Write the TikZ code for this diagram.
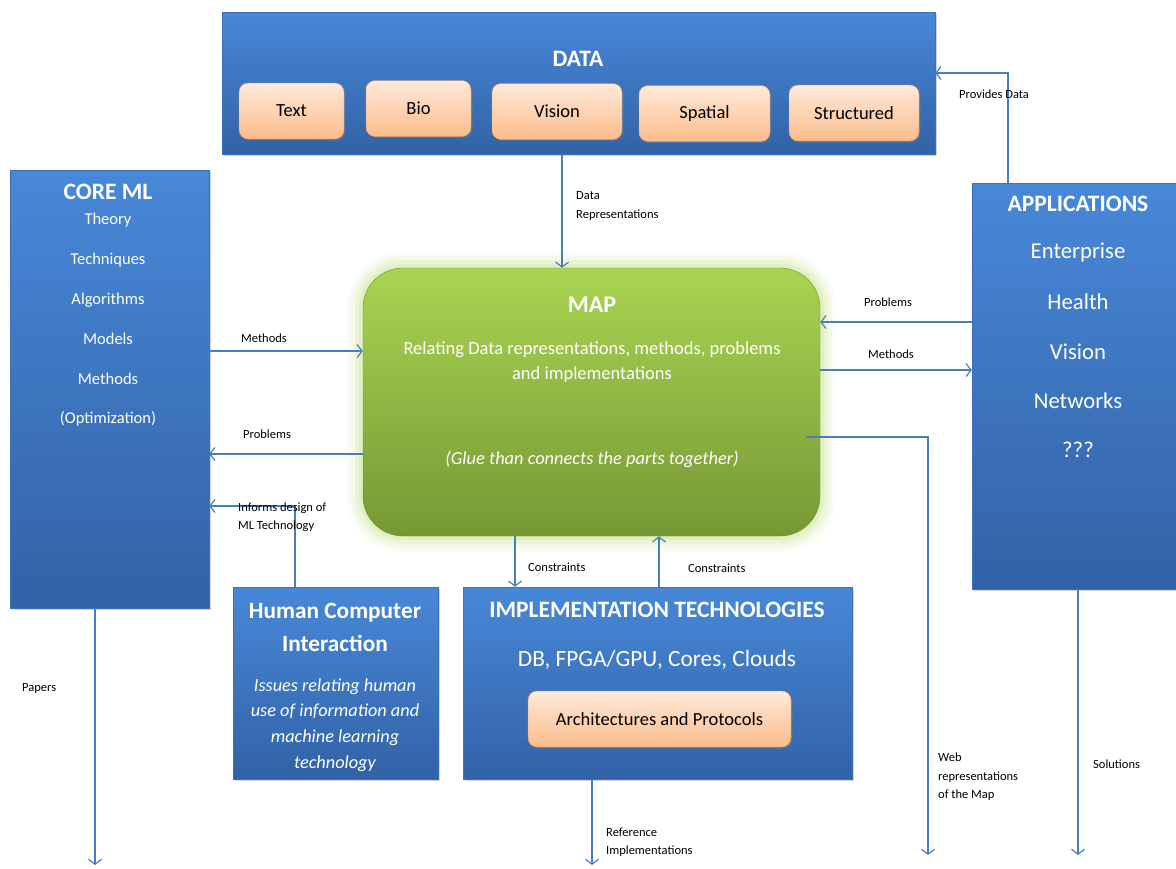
\documentclass[tikz,border=0pt]{standalone}
\usepackage{fontspec}
\setmainfont{Carlito}
\usetikzlibrary{arrows.meta,shadows,backgrounds}
\definecolor{linkblue}{RGB}{74,126,187}
\definecolor{boxtop}{RGB}{72,136,216}
\definecolor{boxbottom}{RGB}{50,98,166}
\definecolor{boxedge}{RGB}{60,112,185}
\definecolor{maptop}{RGB}{170,212,82}
\definecolor{mapbottom}{RGB}{118,152,52}
\definecolor{mapedge}{RGB}{112,142,50}
\definecolor{mapglow}{RGB}{176,214,96}
\definecolor{kindtop}{RGB}{254,234,218}
\definecolor{kindbottom}{RGB}{251,188,138}
\definecolor{kindedge}{RGB}{238,146,76}
\tikzset{
  bluebox/.style={draw=boxedge, top color=boxtop, bottom color=boxbottom, inner sep=0pt,
    drop shadow={shadow xshift=2pt, shadow yshift=-2pt, opacity=0.35}},
  mapbox/.style={draw=mapedge, top color=maptop, bottom color=mapbottom, rounded corners=40pt, inner sep=0pt},
  kindbox/.style={draw=kindedge, top color=kindtop, bottom color=kindbottom, rounded corners=9pt,
    minimum height=56pt, font=\fontsize{18.5}{22}\selectfont, text=black,
    drop shadow={shadow xshift=1.5pt, shadow yshift=-1.5pt, opacity=0.3}},
  boxtitle/.style={text=white, font=\fontsize{23.5}{28}\selectfont\bfseries},
  boxitem/.style={text=white, font=\fontsize{16.5}{20}\selectfont},
  link/.style={draw=linkblue, line width=1.2pt, -{Straight Barb[length=5pt, width=13pt]}},
  lbl/.style={font=\fontsize{12.5}{18.5}\selectfont, align=left, anchor=west, inner sep=0pt},
}
\begin{document}
\begin{tikzpicture}[x=1pt,y=-1pt]
\useasboundingbox (0,0) rectangle (1176,868);

% glow round the map
\foreach \w/\o in {32/0.07,24/0.09,16/0.12,8/0.16}{
  \draw[mapglow, line width=\w pt, opacity=\o, rounded corners=40pt] (363,268) rectangle (820,536);
}

% boxes
\node[bluebox, minimum width=713pt, minimum height=142pt] (data) at (578.5,83) {};
\node[bluebox, minimum width=199pt, minimum height=438pt] (core) at (109.5,389) {};
\node[bluebox, minimum width=208pt, minimum height=406pt] (app) at (1076,386) {};
\node[bluebox, minimum width=205pt, minimum height=192pt] (hci) at (335.5,683) {};
\node[bluebox, minimum width=389pt, minimum height=192pt] (impl) at (657.5,683) {};
\node[mapbox, minimum width=457pt, minimum height=268pt] (map) at (591.5,402) {};

% data
\node[boxtitle] (datatitle) at (578,59) {DATA};
\foreach \n/\x/\y/\w/\t in {text/291.5/111/105/Text, bio/418.5/108.5/105/Bio, vision/557/111.5/130/Vision,
  spatial/704.5/113.5/131/Spatial, structured/854/113/130/Structured}{
  \node[kindbox, minimum width=\w pt] (\n) at (\x,\y) {\t};
}

% core ml
\node[boxtitle] (coretitle) at (108,192) {CORE ML};
\foreach \y/\t in {220/Theory, 260/Techniques, 300/Algorithms, 339/Models, 379/Methods, 419/(Optimization)}{
  \node[boxitem] at (108,\y) {\t};
}

% applications
\node[boxtitle] (apptitle) at (1078,204) {APPLICATIONS};
\foreach \y/\t in {253/Enterprise, 302/Health, 352/Vision, 401/Networks, 450/???}{
  \node[boxitem, font=\fontsize{22.7}{26}\selectfont] at (1078,\y) {\t};
}

% map
\node[boxtitle, font=\fontsize{24}{28}\selectfont\bfseries] (maptitle) at (592,305) {MAP};
\node[boxitem, align=center, font=\fontsize{18.5}{25.5}\selectfont] (maptext) at (592,362)
  {Relating Data representations, methods, problems\\and implementations};
\node[boxitem, font=\fontsize{18.4}{22}\selectfont\itshape] (mapglue) at (592,459) {(Glue than connects the parts together)};

% hci
\node[boxtitle, align=center, font=\fontsize{23.3}{33}\selectfont\bfseries] (hcititle) at (335,627) {Human Computer\\Interaction};
\node[boxitem, align=center, font=\fontsize{18.3}{25.7}\selectfont\itshape] (hcitext) at (335,725)
  {Issues relating human\\use of information and\\machine learning\\technology};

% implementation
\node[boxtitle] (impltitle) at (657,610) {IMPLEMENTATION TECHNOLOGIES};
\node[boxitem, font=\fontsize{23.3}{27}\selectfont] (impltext) at (657,660) {DB, FPGA/GPU, Cores, Clouds};
\node[kindbox, minimum width=263pt] (arch) at (659.5,719) {Architectures and Protocols};

% connectors
\coordinate (hcibend) at (295,506);
\coordinate (provbend) at (1008,73);
\coordinate (webbend) at (928,437);
\coordinate (webend) at (928,855);
\coordinate (papersend) at (95,865);
\coordinate (refend) at (592,865);
\coordinate (solend) at (1078,855);

\draw[link] (data.south -| 562,0) -- (map.north -| 562,0);
\draw[link] (core.east |- 0,351) -- (map.west |- 0,351);
\draw[link] (map.west |- 0,454) -- (core.east |- 0,454);
\draw[link] (hci.north -| hcibend) -- (hcibend) -- (core.east |- hcibend);
\draw[link] (app.west |- 0,322) -- (map.east |- 0,322);
\draw[link] (map.east |- 0,370) -- (app.west |- 0,370);
\draw[link] (app.north -| provbend) -- (provbend) -- (data.east |- provbend);
\draw[link] (map.south -| 515,0) -- (impl.north -| 515,0);
\draw[link] (impl.north -| 659,0) -- (map.south -| 659,0);
\draw[link] (core.south -| papersend) -- (papersend);
\draw[link] (impl.south -| refend) -- (refend);
\draw[link] ([xshift=-14pt]map.east |- webbend) -- (webbend) -- (webend);
\draw[link] (app.south -| solend) -- (solend);

% labels
\node[lbl] at (576,206) {Data\\Representations};
\node[lbl] at (241,338) {Methods};
\node[lbl] at (243,434) {Problems};
\node[lbl] at (238,517) {Informs design of\\ML Technology};
\node[lbl] at (864,302) {Problems};
\node[lbl] at (868,354) {Methods};
\node[lbl] at (959,94) {Provides Data};
\node[lbl] at (528,567) {Constraints};
\node[lbl] at (688,568) {Constraints};
\node[lbl] at (22,688) {Papers};
\node[lbl] at (606,842) {Reference\\Implementations};
\node[lbl] at (938,777) {Web\\representations\\of the Map};
\node[lbl] at (1093,764) {Solutions};
\end{tikzpicture}
\end{document}
